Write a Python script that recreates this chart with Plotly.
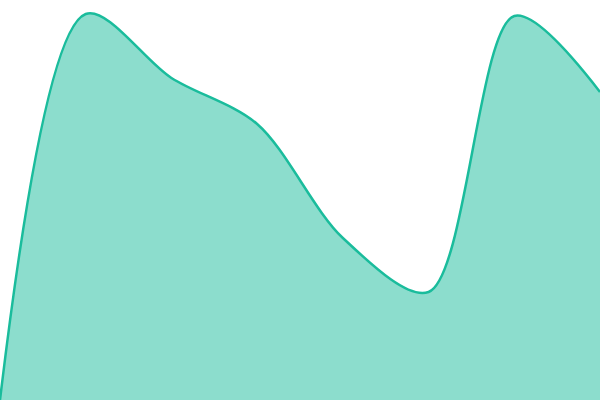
import plotly.graph_objects as go

# series (y as 0-100 of plot height)
steps = [0, 1, 2, 3, 4, 5, 6, 7]
values = [0, 96.5, 80.5, 69, 40.5, 27, 96, 77]

fig = go.Figure()
fig.add_trace(go.Scatter(
    x=steps, y=values, mode="lines",
    line=dict(color="#1abc9c", width=2.5, shape="spline", smoothing=0.9),
    fill="tozeroy", fillcolor="rgba(26,188,156,0.5)",
    hoverinfo="skip",
))
fig.update_layout(
    width=600, height=400,
    margin=dict(l=0, r=0, t=0, b=0),
    paper_bgcolor="white", plot_bgcolor="white",
    showlegend=False,
    xaxis=dict(visible=False, range=[0, 7]),
    yaxis=dict(visible=False, range=[0, 100]),
)
# drop the browser's default body margin so the chart sits flush
fig.write_html("out.html", config={"displayModeBar": False},
               post_script="document.body.style.margin='0';")
